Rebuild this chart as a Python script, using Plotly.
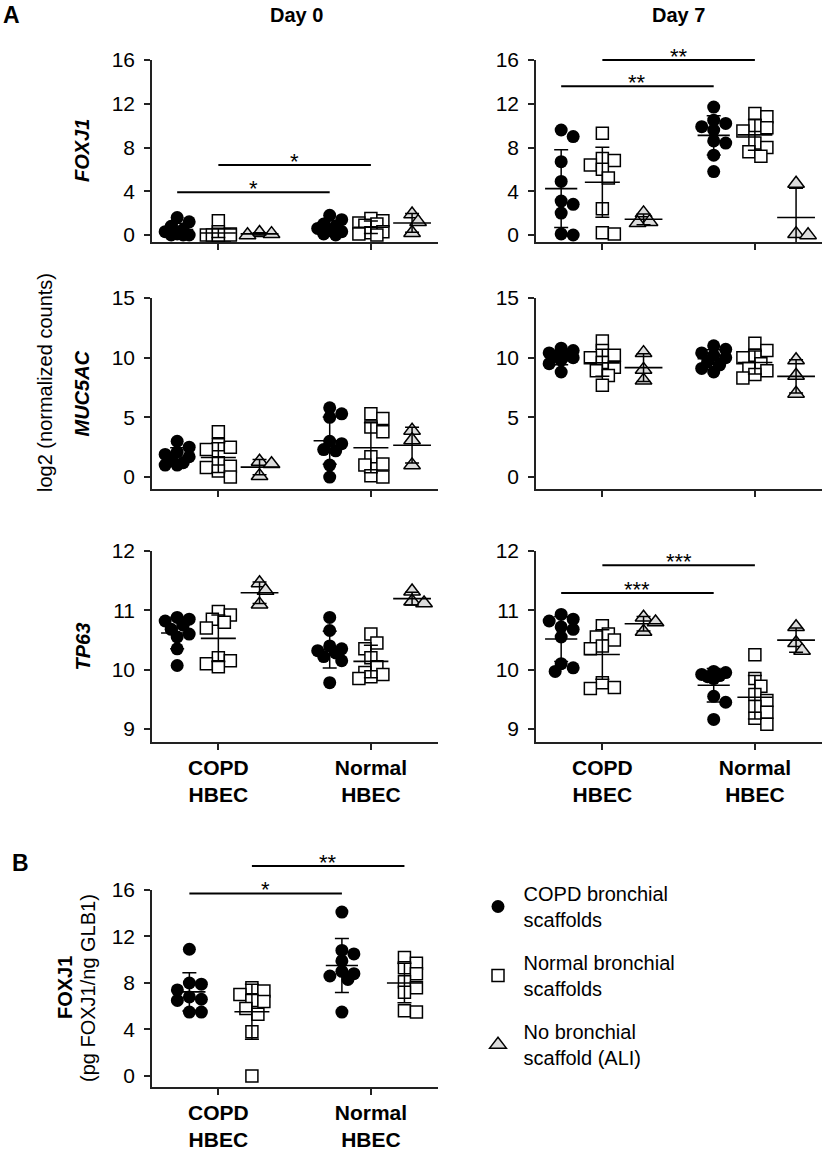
import plotly.graph_objects as go
from statistics import mean, stdev

W, H = 825, 1150

# ---------------- data ----------------
hbec_groups = ["COPD<br>HBEC", "Normal<br>HBEC"]
scaffold_series = ["&nbsp;COPD bronchial<br>&nbsp;scaffolds", "&nbsp;Normal bronchial<br>&nbsp;scaffolds",
                   "&nbsp;No bronchial<br>&nbsp;scaffold (ALI)"]

# FOXJ1 (log2 normalized counts), Day 0
foxj1_d0_copd_hbec_copd_scaf = [1.6, 1.2, 0.8, 0.5, 0.3, 0.1, 0.0, 0.0, 0.0]
foxj1_d0_copd_hbec_norm_scaf = [1.3, 0.3, 0.1, 0.0, 0.0, 0.0, 0.0, 0.0, 0.0]
foxj1_d0_copd_hbec_ali = [0.2, 0.1, 0.0]
foxj1_d0_norm_hbec_copd_scaf = [1.8, 1.4, 1.0, 0.8, 0.6, 0.4, 0.3, 0.1, 0.0]
foxj1_d0_norm_hbec_norm_scaf = [1.5, 1.3, 1.1, 1.0, 0.9, 0.3, 0.2, 0.1, 0.0]
foxj1_d0_norm_hbec_ali = [1.9, 1.2, 0.2]

# FOXJ1, Day 7
foxj1_d7_copd_hbec_copd_scaf = [9.6, 9.0, 6.7, 4.9, 3.1, 2.8, 2.0, 0.1, 0.0]
foxj1_d7_copd_hbec_norm_scaf = [9.3, 7.0, 6.8, 6.4, 6.0, 5.2, 2.4, 0.2, 0.1]
foxj1_d7_copd_hbec_ali = [2.0, 1.2, 1.1]
foxj1_d7_norm_hbec_copd_scaf = [11.7, 10.5, 10.2, 9.9, 9.6, 8.6, 8.4, 7.3, 5.8]
foxj1_d7_norm_hbec_norm_scaf = [11.1, 10.8, 10.0, 9.8, 9.5, 8.4, 8.0, 7.6, 7.2]
foxj1_d7_norm_hbec_ali = [4.7, 0.1, 0.0]

# MUC5AC, Day 0
muc5ac_d0_copd_hbec_copd_scaf = [3.0, 2.5, 2.1, 1.9, 1.7, 1.5, 1.2, 1.0, 1.0]
muc5ac_d0_copd_hbec_norm_scaf = [3.8, 2.7, 2.5, 2.3, 1.2, 0.9, 0.8, 0.5, 0.0]
muc5ac_d0_copd_hbec_ali = [1.3, 1.1, 0.1]
muc5ac_d0_norm_hbec_copd_scaf = [5.8, 5.3, 5.0, 3.0, 2.8, 2.3, 2.2, 1.0, 0.0]
muc5ac_d0_norm_hbec_norm_scaf = [5.3, 4.9, 4.2, 3.8, 1.7, 1.1, 1.0, 0.1, 0.0]
muc5ac_d0_norm_hbec_ali = [3.9, 3.1, 1.0]

# MUC5AC, Day 7
muc5ac_d7_copd_hbec_copd_scaf = [10.8, 10.6, 10.4, 10.2, 10.1, 10.0, 9.8, 9.5, 8.8]
muc5ac_d7_copd_hbec_norm_scaf = [11.4, 10.6, 10.2, 10.0, 9.6, 9.2, 8.9, 8.5, 7.7]
muc5ac_d7_copd_hbec_ali = [10.4, 9.0, 8.1]
muc5ac_d7_norm_hbec_copd_scaf = [11.0, 10.7, 10.4, 10.2, 10.0, 9.7, 9.4, 9.1, 8.8]
muc5ac_d7_norm_hbec_norm_scaf = [11.2, 10.6, 10.2, 10.0, 9.5, 9.1, 8.9, 8.6, 8.3]
muc5ac_d7_norm_hbec_ali = [9.8, 8.5, 7.0]

# TP63, Day 0
tp63_d0_copd_hbec_copd_scaf = [10.88, 10.85, 10.82, 10.75, 10.68, 10.60, 10.55, 10.35, 10.07]
tp63_d0_copd_hbec_norm_scaf = [10.98, 10.92, 10.85, 10.80, 10.70, 10.20, 10.15, 10.10, 10.05]
tp63_d0_copd_hbec_ali = [11.46, 11.33, 11.10]
tp63_d0_norm_hbec_copd_scaf = [10.88, 10.66, 10.40, 10.35, 10.32, 10.28, 10.22, 10.15, 9.78]
tp63_d0_norm_hbec_norm_scaf = [10.60, 10.45, 10.35, 10.20, 10.05, 9.95, 9.92, 9.88, 9.85]
tp63_d0_norm_hbec_ali = [11.32, 11.15, 11.12]

# TP63, Day 7
tp63_d7_copd_hbec_copd_scaf = [10.93, 10.85, 10.82, 10.72, 10.68, 10.55, 10.10, 10.03, 9.97]
tp63_d7_copd_hbec_norm_scaf = [10.74, 10.60, 10.55, 10.50, 10.40, 10.35, 9.78, 9.70, 9.68]
tp63_d7_copd_hbec_ali = [10.88, 10.80, 10.64]
tp63_d7_norm_hbec_copd_scaf = [9.97, 9.95, 9.92, 9.90, 9.88, 9.85, 9.55, 9.45, 9.16]
tp63_d7_norm_hbec_norm_scaf = [10.25, 9.85, 9.72, 9.58, 9.48, 9.38, 9.28, 9.18, 9.08]
tp63_d7_norm_hbec_ali = [10.72, 10.45, 10.32]

# B: FOXJ1 protein (pg FOXJ1 / ng GLB1)
prot_copd_hbec_copd_scaf = [10.9, 8.0, 7.9, 7.4, 6.8, 6.6, 6.5, 5.5, 5.5]
prot_copd_hbec_norm_scaf = [7.6, 7.3, 7.0, 6.5, 6.4, 5.8, 5.3, 3.8, 0.0]
prot_norm_hbec_copd_scaf = [14.1, 10.8, 10.5, 9.9, 9.0, 8.8, 8.6, 8.3, 5.5]
prot_norm_hbec_norm_scaf = [10.2, 9.7, 9.3, 8.8, 8.1, 7.6, 7.2, 5.6, 5.5]

# significance brackets: (series index, bracket level, label)
sig_foxj1_d0 = [(0, 3.9, "*"), (1, 6.4, "*")]
sig_foxj1_d7 = [(0, 13.6, "**"), (1, 16.0, "**")]
sig_tp63_d7 = [(0, 11.29, "***"), (1, 11.76, "***")]
sig_prot = [(0, 15.7, "*"), (1, 18.06, "**")]

# ---------------- layout constants ----------------
FONT = "Arial, Liberation Sans, Helvetica, sans-serif"
XR = [-0.435, 1.44]
A_OFFS = [-0.27, 0.0, 0.27]
B_OFFS = [-0.19, 0.22, 0.0]

panels = [
    dict(gene="<b><i>FOXJ1</i></b>", xd=(152, 438), yd=(60, 242), yr=[-0.64, 16], yt=[0, 4, 8, 12, 16],
         labels=False, offs=A_OFFS, sig=sig_foxj1_d0,
         data=[[foxj1_d0_copd_hbec_copd_scaf, foxj1_d0_copd_hbec_norm_scaf, foxj1_d0_copd_hbec_ali],
               [foxj1_d0_norm_hbec_copd_scaf, foxj1_d0_norm_hbec_norm_scaf, foxj1_d0_norm_hbec_ali]]),
    dict(gene=None, xd=(536, 822), yd=(60, 242), yr=[-0.64, 16], yt=[0, 4, 8, 12, 16],
         labels=False, offs=A_OFFS, sig=sig_foxj1_d7,
         data=[[foxj1_d7_copd_hbec_copd_scaf, foxj1_d7_copd_hbec_norm_scaf, foxj1_d7_copd_hbec_ali],
               [foxj1_d7_norm_hbec_copd_scaf, foxj1_d7_norm_hbec_norm_scaf, foxj1_d7_norm_hbec_ali]]),
    dict(gene="<b><i>MUC5AC</i></b>", xd=(152, 438), yd=(298, 489), yr=[-1.0, 15], yt=[0, 5, 10, 15],
         labels=False, offs=A_OFFS, sig=[],
         data=[[muc5ac_d0_copd_hbec_copd_scaf, muc5ac_d0_copd_hbec_norm_scaf, muc5ac_d0_copd_hbec_ali],
               [muc5ac_d0_norm_hbec_copd_scaf, muc5ac_d0_norm_hbec_norm_scaf, muc5ac_d0_norm_hbec_ali]]),
    dict(gene=None, xd=(536, 822), yd=(298, 489), yr=[-1.0, 15], yt=[0, 5, 10, 15],
         labels=False, offs=A_OFFS, sig=[],
         data=[[muc5ac_d7_copd_hbec_copd_scaf, muc5ac_d7_copd_hbec_norm_scaf, muc5ac_d7_copd_hbec_ali],
               [muc5ac_d7_norm_hbec_copd_scaf, muc5ac_d7_norm_hbec_norm_scaf, muc5ac_d7_norm_hbec_ali]]),
    dict(gene="<b><i>TP63</i></b>", xd=(152, 438), yd=(551, 742), yr=[8.78, 12], yt=[9, 10, 11, 12],
         labels=True, offs=A_OFFS, sig=[],
         data=[[tp63_d0_copd_hbec_copd_scaf, tp63_d0_copd_hbec_norm_scaf, tp63_d0_copd_hbec_ali],
               [tp63_d0_norm_hbec_copd_scaf, tp63_d0_norm_hbec_norm_scaf, tp63_d0_norm_hbec_ali]]),
    dict(gene=None, xd=(536, 822), yd=(551, 742), yr=[8.78, 12], yt=[9, 10, 11, 12],
         labels=True, offs=A_OFFS, sig=sig_tp63_d7,
         data=[[tp63_d7_copd_hbec_copd_scaf, tp63_d7_copd_hbec_norm_scaf, tp63_d7_copd_hbec_ali],
               [tp63_d7_norm_hbec_copd_scaf, tp63_d7_norm_hbec_norm_scaf, tp63_d7_norm_hbec_ali]]),
    dict(gene=None, xd=(152, 438), yd=(890, 1087), yr=[-0.95, 16], yt=[0, 4, 8, 12, 16],
         labels=True, offs=B_OFFS, sig=sig_prot,
         data=[[prot_copd_hbec_copd_scaf, prot_copd_hbec_norm_scaf, None],
               [prot_norm_hbec_copd_scaf, prot_norm_hbec_norm_scaf, None]]),
]

MARKERS = [
    dict(symbol="circle", size=13, color="black", line=dict(width=0)),
    dict(symbol="square", size=12, color="white", line=dict(width=1.5, color="black")),
    dict(symbol="triangle-up", size=14.5, color="#dcdcdc", line=dict(width=1.5, color="black")),
]
MEAN_W = [23, 25, 27]


def swarm(vals, ppy, diam, step, max_k=2):
    """Deterministic beeswarm offsets (pixels) so that markers do not pile up."""
    order = sorted(range(len(vals)), key=lambda i: -vals[i])
    placed, res = [], [0.0] * len(vals)
    cands = [0.0]
    for k in range(1, max_k + 1):
        cands += [k * step, -k * step]
    for i in order:
        y = vals[i] * ppy
        chosen = None
        for c in cands:
            if all((c - px) ** 2 + (y - py) ** 2 >= (diam * 0.72) ** 2 for px, py in placed):
                chosen = c
                break
        if chosen is None:
            chosen = max(cands, key=lambda c: min((c - px) ** 2 + (y - py) ** 2 for px, py in placed))
        placed.append((chosen, y))
        res[i] = chosen
    return res


fig = go.Figure()
annotations = []
shapes = []
legend_done = set()

for idx, p in enumerate(panels, start=1):
    sfx = "" if idx == 1 else str(idx)
    xa, ya = "x" + sfx, "y" + sfx
    x0, x1 = p["xd"]
    yt0, yb0 = p["yd"]
    ppx = (x1 - x0) / (XR[1] - XR[0])
    ppy = (yb0 - yt0) / (p["yr"][1] - p["yr"][0])

    axis_common = dict(showline=True, linecolor="#222", linewidth=1.5, ticks="outside",
                       ticklen=6, tickwidth=1.5, tickcolor="#222", showgrid=False, zeroline=False,
                       automargin=False)
    fig.update_layout(**{
        ("xaxis" + sfx): dict(axis_common, domain=[x0 / W, x1 / W], range=XR, anchor=ya,
                              tickvals=[0, 1], ticktext=hbec_groups, showticklabels=p["labels"],
                              tickfont=dict(family=FONT, size=21, color="black", weight="bold"),
                              ticklabelstandoff=0),
        ("yaxis" + sfx): dict(axis_common, domain=[1 - yb0 / H, 1 - yt0 / H], range=p["yr"],
                              anchor=xa, tickvals=p["yt"], ticklabelstandoff=5,
                              tickfont=dict(family=FONT, size=21, color="black")),
    })

    for g, group in enumerate(p["data"]):
        for s, vals in enumerate(group):
            if vals is None:
                continue
            xc = g + p["offs"][s]
            offs = swarm(vals, ppy, 13, 6)
            show = s not in legend_done and (s == 2 or idx == 7)
            if show:
                legend_done.add(s)
            fig.add_trace(go.Scatter(
                x=[xc + o / ppx for o in offs], y=vals, mode="markers", marker=MARKERS[s],
                xaxis=xa, yaxis=ya, cliponaxis=False, name=scaffold_series[s],
                legendgroup=str(s), showlegend=show, legendrank=s + 1,
                hoverinfo="y"))
            fig.add_trace(go.Scatter(
                x=[xc], y=[mean(vals)], mode="markers",
                marker=dict(symbol="line-ew", size=MEAN_W[s], color="black",
                            line=dict(width=1.6, color="black")),
                error_y=dict(type="data", array=[stdev(vals)], thickness=1.5, width=7, color="black"),
                xaxis=xa, yaxis=ya, cliponaxis=False, showlegend=False, hoverinfo="skip"))

    # significance brackets (domain-relative so they may sit above the axis range)
    for s, lvl, lab in p["sig"]:
        xa_ = p["offs"][s]
        xb_ = 1 + p["offs"][s]
        fx0 = (xa_ - XR[0]) / (XR[1] - XR[0])
        fx1 = (xb_ - XR[0]) / (XR[1] - XR[0])
        fy = (lvl - p["yr"][0]) / (p["yr"][1] - p["yr"][0])
        shapes.append(dict(type="line", xref=xa + " domain", yref=ya + " domain",
                           x0=fx0, x1=fx1, y0=fy, y1=fy, line=dict(color="black", width=2)))
        annotations.append(dict(x=(fx0 + fx1) / 2, y=fy, xref=xa + " domain", yref=ya + " domain",
                                text=lab, showarrow=False, xanchor="center", yanchor="middle",
                                yshift=4, font=dict(family=FONT, size=22, color="black")))

    if p["gene"]:
        annotations.append(dict(x=82 / W, y=1 - (yt0 + yb0) / 2 / H, xref="paper", yref="paper",
                                text=p["gene"], textangle=-90, showarrow=False,
                                xanchor="center", yanchor="middle",
                                font=dict(family=FONT, size=20, color="black")))


def txt(x, y, t, size=20, **kw):
    annotations.append(dict(x=x / W, y=1 - y / H, xref="paper", yref="paper", text=t,
                            showarrow=False, xanchor="center", yanchor="middle",
                            font=dict(family=FONT, size=size, color="black"), **kw))


txt(11, 15, "<b>A</b>", size=23)
txt(20, 863, "<b>B</b>", size=23)
txt(296, 15, "<b>Day 0</b>", size=20)
txt(678, 15, "<b>Day 7</b>", size=20)
txt(45, 383, "log2 (normalized counts)", size=20, textangle=-90)
txt(65, 988, "<b>FOXJ1</b>", size=20, textangle=-90)
txt(88, 988, "(pg FOXJ1/ng GLB1)", size=20, textangle=-90)

fig.update_layout(
    width=W, height=H, autosize=False,
    margin=dict(l=0, r=0, t=0, b=0, pad=0, autoexpand=False),
    paper_bgcolor="white", plot_bgcolor="white",
    font=dict(family=FONT, color="black"),
    annotations=annotations, shapes=shapes,
    showlegend=True,
    legend=dict(x=478 / W, y=1 - 874 / H, xanchor="left", yanchor="top",
                font=dict(family=FONT, size=20, color="black"),
                tracegroupgap=14, bgcolor="rgba(0,0,0,0)", itemclick=False),
)

fig.write_html("out.html", config={"displayModeBar": False},
               post_script="document.body.style.margin='0px';")
